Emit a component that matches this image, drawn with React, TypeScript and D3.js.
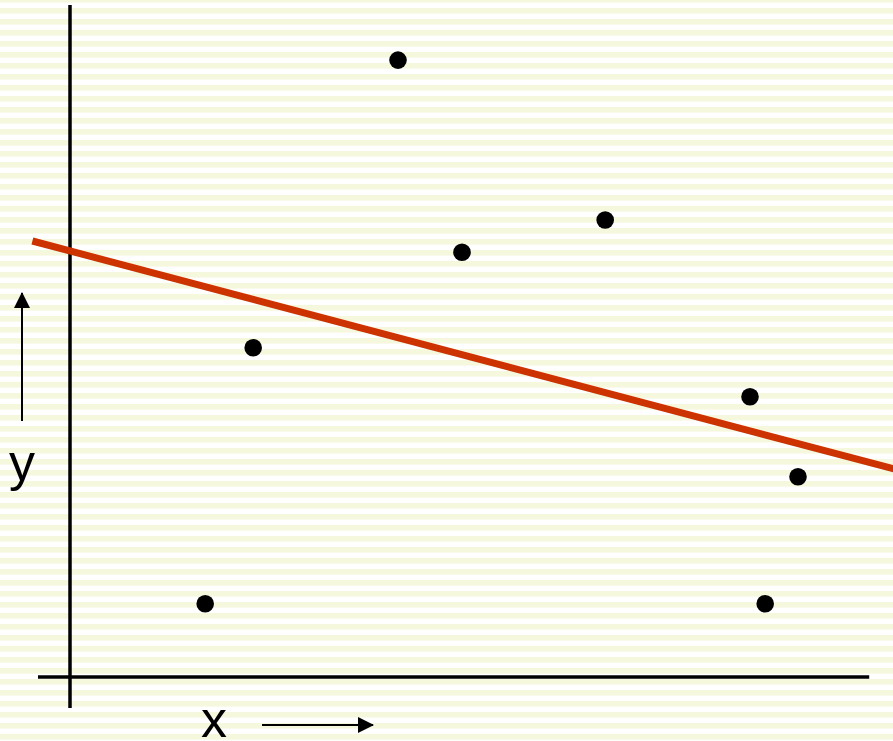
import React from "react";
import * as d3 from "d3";

const W = 893;
const H = 741;

// Scatter points (abstract units)
const pointX = [1.69, 2.29, 4.1, 4.9, 6.69, 8.5, 8.69, 9.1];
const pointY = [1.09, 4.9, 9.18, 6.32, 6.8, 4.17, 1.09, 2.98];

// Fitted line: y = intercept + slope * x
const lineIntercept = 6.34;
const lineSlope = -0.315;
const lineXExtent = [-0.47, 10.4];

// Axis extents
const xAxisExtent = [-0.4, 9.99];
const yAxisExtent = [-0.46, 10];

const axisLabels = ["x", "y"];

export default function App() {
  const x = d3.scaleLinear().domain([0, 10]).range([70, 870]);
  const y = d3.scaleLinear().domain([0, 10]).range([677, 5]);

  const fit = d3
    .line<number>()
    .x((d) => x(d))
    .y((d) => y(lineIntercept + lineSlope * d));

  return (
    <svg
      width={W}
      height={H}
      style={{ position: "absolute", left: 0, top: 0, display: "block" }}
    >
      <defs>
        <pattern
          id="stripes"
          patternUnits="userSpaceOnUse"
          width={W}
          height={11}
          patternTransform="translate(0,8)"
        >
          <rect x={0} y={0} width={W} height={11} fill="#ffffff" />
          <rect x={0} y={0} width={W} height={5.6} fill="#f6f8de" />
        </pattern>
        <marker
          id="arrow"
          viewBox="0 0 16 16"
          refX={15}
          refY={8}
          markerWidth={16}
          markerHeight={16}
          markerUnits="userSpaceOnUse"
          orient="auto"
        >
          <path d="M0,0 L16,8 L0,16 Z" fill="#000" />
        </marker>
        <clipPath id="clip">
          <rect x={0} y={0} width={W} height={H} />
        </clipPath>
      </defs>
      <rect x={0} y={0} width={W} height={H} fill="url(#stripes)" />

      {/* axes */}
      <line
        x1={x(0)}
        x2={x(0)}
        y1={y(yAxisExtent[1])}
        y2={y(yAxisExtent[0])}
        stroke="#000"
        strokeWidth={3.5}
      />
      <line
        x1={x(xAxisExtent[0])}
        x2={x(xAxisExtent[1])}
        y1={y(0)}
        y2={y(0)}
        stroke="#000"
        strokeWidth={3.5}
      />

      {/* fitted line */}
      <path
        d={fit(lineXExtent) || ""}
        stroke="#cc3300"
        strokeWidth={7}
        fill="none"
        clipPath="url(#clip)"
      />

      {/* points */}
      {pointX.map((px, i) => (
        <circle key={i} cx={x(px)} cy={y(pointY[i])} r={8.8} fill="#000" />
      ))}

      {/* arrows */}
      <line
        x1={262}
        y1={725}
        x2={373}
        y2={725}
        stroke="#000"
        strokeWidth={2}
        markerEnd="url(#arrow)"
      />
      <line
        x1={22}
        y1={421}
        x2={22}
        y2={293}
        stroke="#000"
        strokeWidth={2}
        markerEnd="url(#arrow)"
      />

      {/* labels */}
      <text
        x={201}
        y={737}
        fontFamily="Liberation Sans, Arial, sans-serif"
        fontSize={52}
        fill="#000"
      >
        {axisLabels[0]}
      </text>
      <text
        x={9}
        y={480}
        fontFamily="Liberation Sans, Arial, sans-serif"
        fontSize={52}
        fill="#000"
      >
        {axisLabels[1]}
      </text>
    </svg>
  );
}
